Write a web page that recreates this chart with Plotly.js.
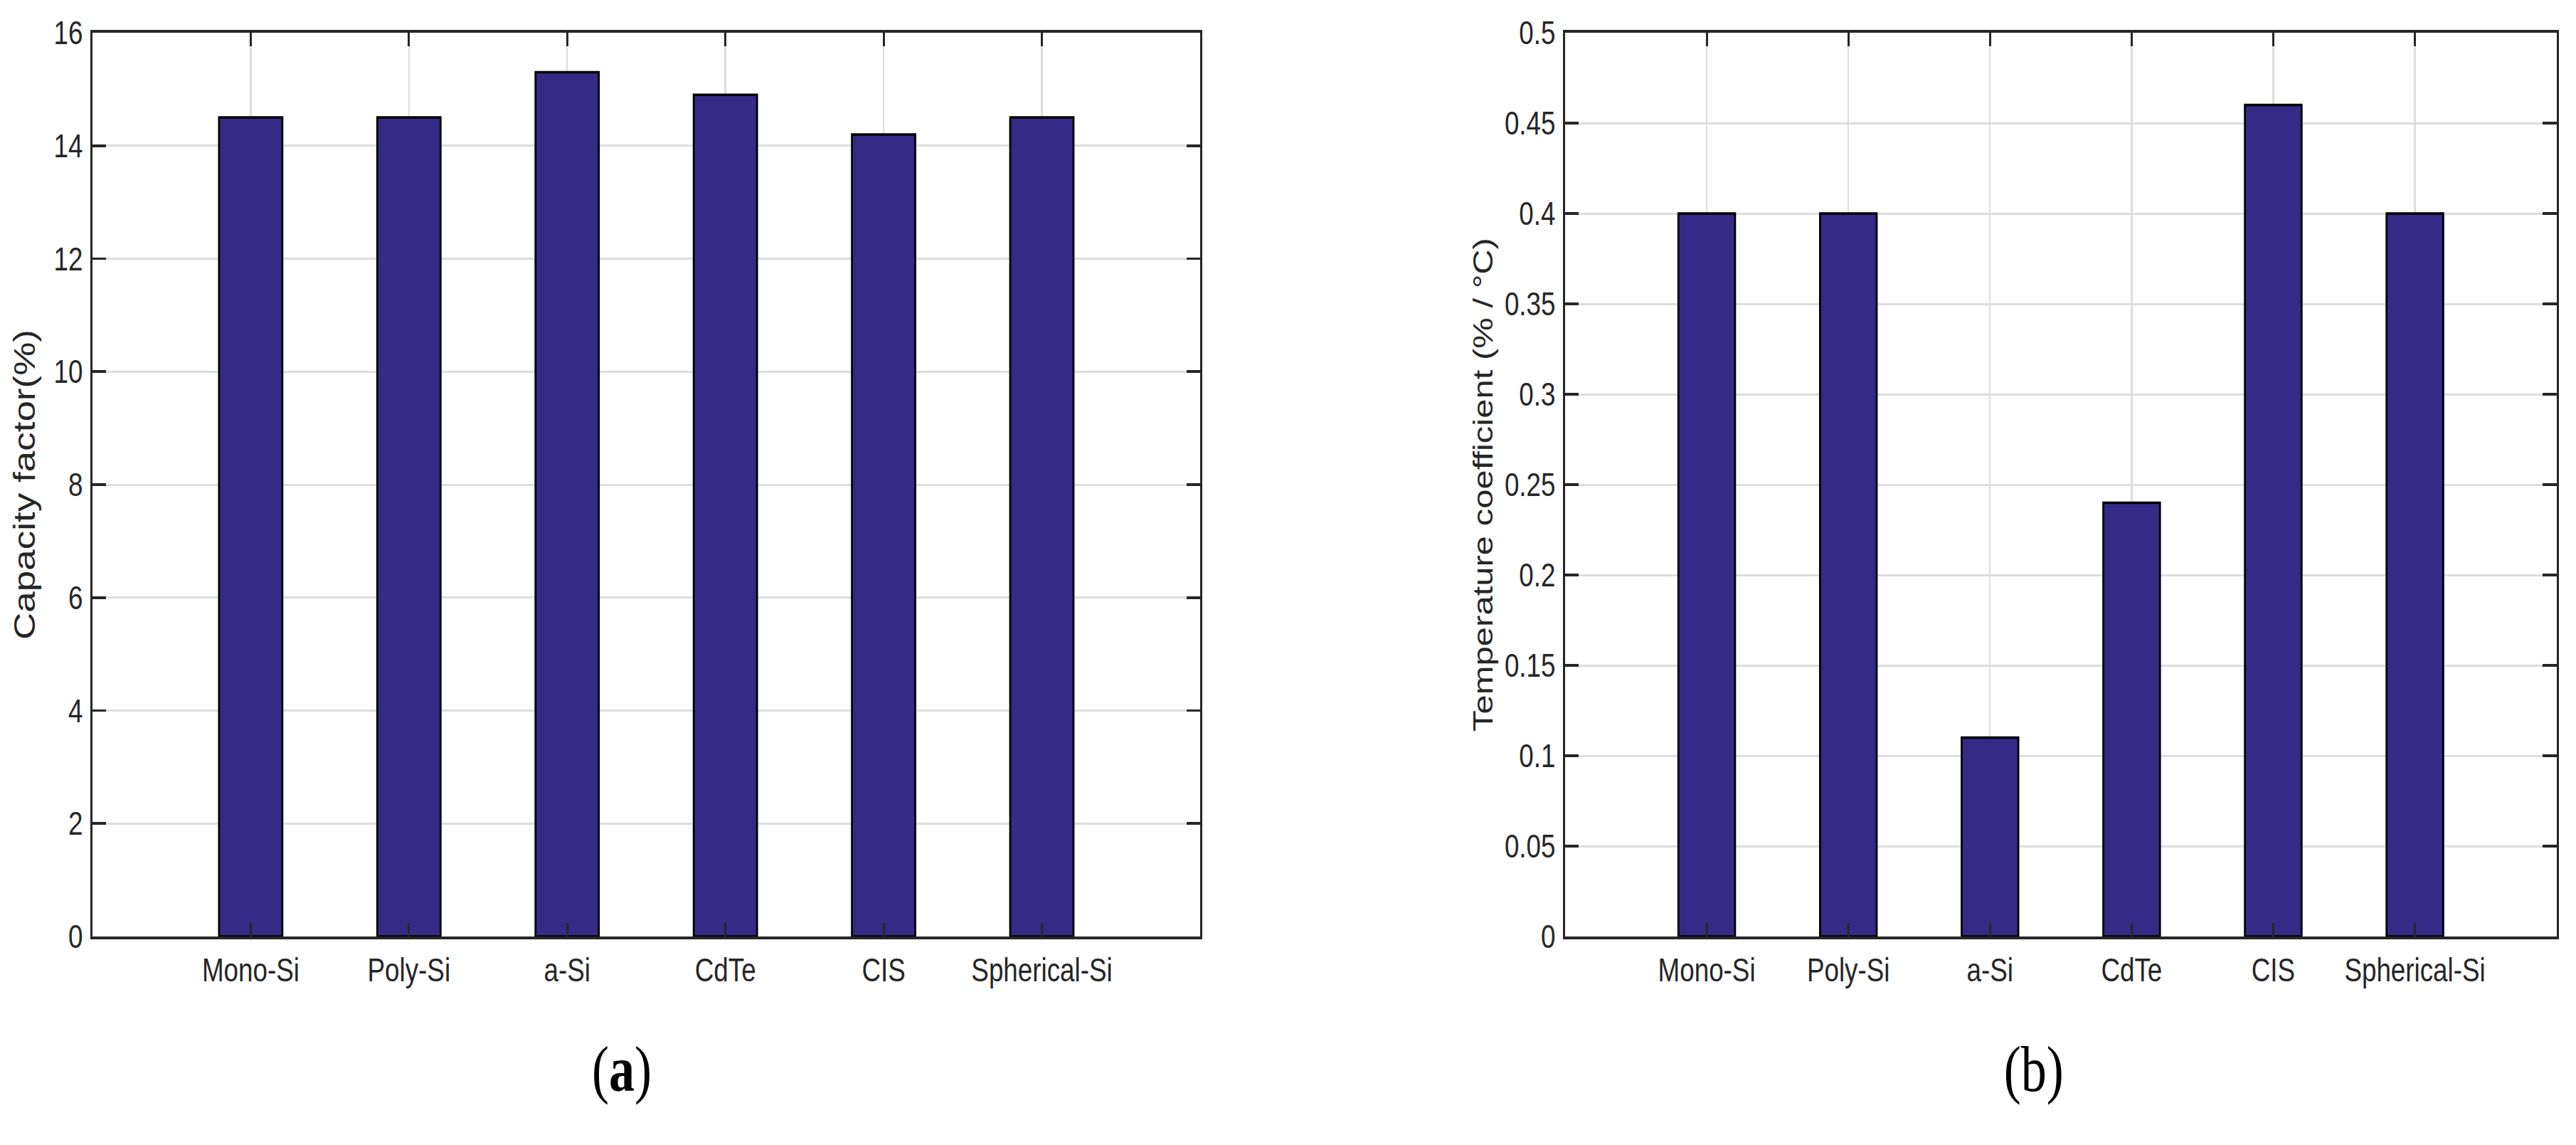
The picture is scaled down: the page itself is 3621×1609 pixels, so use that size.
<!DOCTYPE html>
<html>
<head>
<meta charset="utf-8">
<script src="https://cdn.plot.ly/plotly-3.0.1.min.js"></script>
<style>
  html, body { margin: 0; padding: 0; background: #ffffff; overflow: hidden; width: 3621px; height: 1609px; }
  #chart { width: 4526px; height: 1609px; transform: scaleX(0.8); transform-origin: 0 0; }
</style>
</head>
<body>
<div id="chart"></div>
<script>
// ---- data ----
const categories = ["Mono-Si", "Poly-Si", "a-Si", "CdTe", "CIS", "Spherical-Si"];
const capacityFactor = [14.5, 14.5, 15.3, 14.9, 14.2, 14.5];
const tempCoefficient = [0.40, 0.40, 0.11, 0.24, 0.46, 0.40];
const yTicksA = [0, 2, 4, 6, 8, 10, 12, 14, 16];
const yTicksB = [0, 0.05, 0.1, 0.15, 0.2, 0.25, 0.3, 0.35, 0.4, 0.45, 0.5];
const yTickTextB = ["0", "0.05", "0.1", "0.15", "0.2", "0.25", "0.3", "0.35", "0.4", "0.45", "0.5"];
const titleA = "Capacity factor(%)";
const titleB = "Temperature coefficient (% / °C)";
const panelLabels = ["(<b>a</b>)", "(b)"];

// ---- style ----
const barColor = "#352a86";
const axisColor = "#262626";
const gridColor = "#dedede";
const fontFam = "Liberation Sans, Arial, Helvetica, sans-serif";
const tickFont = { family: fontFam, size: 46, color: axisColor };

function barTrace(y, xa, ya) {
  return {
    type: "bar", x: categories, y: y, xaxis: xa, yaxis: ya, width: 0.4,
    marker: { color: barColor, line: { color: "#000000", width: 3.5 } },
    hoverinfo: "skip", showlegend: false
  };
}

function xAxis(domain, anchor) {
  return {
    domain: domain, anchor: anchor, type: "category", range: [-1, 6],
    showgrid: true, gridcolor: gridColor, gridwidth: 3,
    showline: true, linecolor: axisColor, linewidth: 3.7, mirror: "ticks",
    ticks: "inside", ticklen: 19, tickwidth: 3.7, tickcolor: axisColor,
    tickfont: tickFont, ticklabelstandoff: 4, zeroline: false, fixedrange: true
  };
}

function yAxis(domain, anchor, range, tv, tt, title, tsize, standoff) {
  return {
    domain: domain, anchor: anchor, range: range,
    tickmode: "array", tickvals: tv, ticktext: tt,
    showgrid: true, gridcolor: gridColor, gridwidth: 3,
    showline: true, linecolor: axisColor, linewidth: 3.7, mirror: "ticks",
    ticks: "inside", ticklen: 24, tickwidth: 3.7, tickcolor: axisColor,
    tickfont: tickFont, ticklabelstandoff: 4, zeroline: false, fixedrange: true,
    title: { text: title, font: { family: fontFam, size: tsize, color: axisColor }, standoff: standoff }
  };
}

const yDom = [0.1821, 0.9714];
const layout = {
  width: 4526, height: 1609,
  margin: { l: 0, r: 0, t: 0, b: 0 },
  paper_bgcolor: "#ffffff", plot_bgcolor: "#ffffff",
  showlegend: false, bargap: 0.6,
  xaxis: xAxis([0.0359, 0.4659], "y"),
  yaxis: yAxis(yDom, "x", [0, 16], yTicksA, yTicksA.map(String), titleA, 53, 16),
  xaxis2: xAxis([0.6076, 0.9925], "y2"),
  yaxis2: yAxis(yDom, "x2", [0, 0.5], yTicksB, yTickTextB, titleB, 49, 6),
  annotations: [
    { text: panelLabels[0], xref: "paper", yref: "paper", x: 0.2414, y: 0.066,
      xanchor: "center", yanchor: "middle", showarrow: false,
      font: { family: "Liberation Serif, Times New Roman, serif", size: 90, color: "#000000" } },
    { text: panelLabels[1], xref: "paper", yref: "paper", x: 0.7895, y: 0.066,
      xanchor: "center", yanchor: "middle", showarrow: false,
      font: { family: "Liberation Serif, Times New Roman, serif", size: 90, color: "#000000" } }
  ]
};

Plotly.newPlot("chart", [
  barTrace(capacityFactor, "x", "y"),
  barTrace(tempCoefficient, "x2", "y2")
], layout, { displayModeBar: false, staticPlot: true });
</script>
</body>
</html>
